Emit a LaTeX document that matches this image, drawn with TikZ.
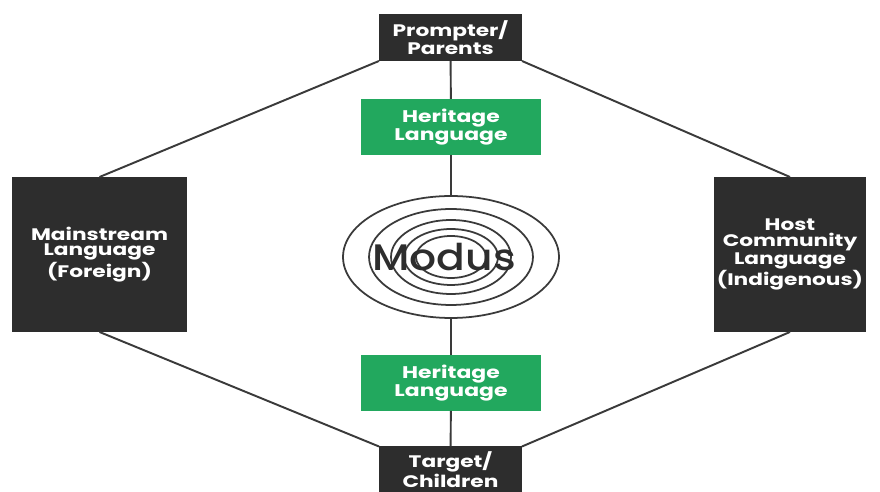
\documentclass[tikz,border=0pt]{standalone}
\usepackage{fontspec}
\setmainfont{Poppins}
\newfontfamily\boxfont{Poppins}[FakeStretch=1.3]
\newfontfamily\modusfont{Poppins}[FakeStretch=1.15,UprightFont=* Medium]
\usepackage{xcolor}
\usepackage{tikz}
\usetikzlibrary{positioning,shapes.geometric}

\definecolor{boxdark}{HTML}{2D2D2D}
\definecolor{heritage}{HTML}{22A85E}
\definecolor{linegray}{HTML}{3A3A3A}

\begin{document}
\begin{tikzpicture}[x=0.02cm,y=-0.02cm,
    darkbox/.style={fill=boxdark,text=white,font=\boxfont\bfseries\fontsize{9.5}{8.9}\selectfont,
      align=center,inner sep=0pt,outer sep=0pt},
    greenbox/.style={fill=heritage,text=white,font=\boxfont\bfseries\fontsize{9.6}{8.9}\selectfont,
      align=center,inner sep=0pt,outer sep=0pt,minimum width=3.6cm,minimum height=1.12cm},
    link/.style={draw=linegray,line width=1.1pt},
    ring/.style={draw=linegray,line width=1pt}]

  \useasboundingbox[fill=white] (0,0) rectangle (880,492);

  % roles
  \node[darkbox,minimum width=2.86cm,minimum height=0.94cm] (prompter) at (450.5,37.5) {Prompter/\\Parents};
  \node[darkbox,minimum width=2.86cm,minimum height=0.94cm] (target) at (450.5,470) {Target/\\Children};

  % languages
  \node[darkbox,minimum width=3.5cm,minimum height=3.1cm] (mainstream) at (99.5,254.5) {Mainstream\\Language\\(Foreign)};
  \node[darkbox,minimum width=3.04cm,minimum height=3.1cm] (host) at (790,254.5) {Host\\Community\\Language\\(Indigenous)};
  \node[greenbox] (heritageA) at (451,127) {Heritage\\Language};
  \node[greenbox] (heritageB) at (451,383) {Heritage\\Language};

  % modus rings
  \node[ellipse,ring,minimum width=4.32cm,minimum height=2.44cm,inner sep=0pt] (modus) at (451,257) {};
  \draw[ring] (modus.center) ellipse (1.64cm and 0.96cm);
  \draw[ring] (modus.center) ellipse (1.2cm and 0.74cm);
  \draw[ring] (modus.center) ellipse (0.94cm and 0.56cm);
  \draw[ring] (modus.center) ellipse (0.7cm and 0.42cm);
  \node[text=boxdark,font=\modusfont\fontsize{21}{21}\selectfont] (modustext) at (444,257) {Modus};

  % connectors
  \draw[link] (prompter) -- (heritageA);
  \draw[link] (heritageA) -- (modus);
  \draw[link] (modus) -- (heritageB);
  \draw[link] (heritageB) -- (target);
  \draw[link] (prompter.south west) -- (mainstream.north);
  \draw[link] (prompter.south east) -- (host.north);
  \draw[link] (mainstream.south) -- (target.north west);
  \draw[link] (host.south) -- (target.north east);
\end{tikzpicture}
\end{document}
